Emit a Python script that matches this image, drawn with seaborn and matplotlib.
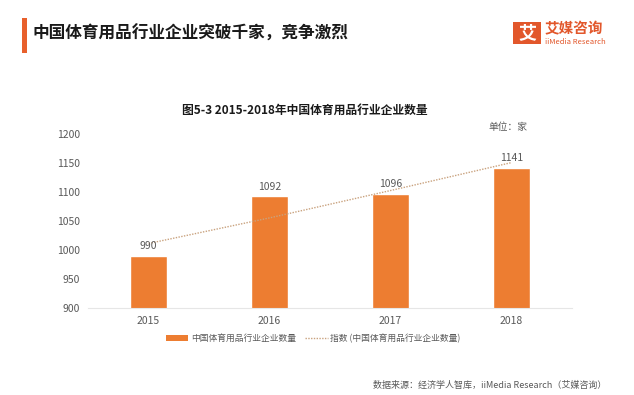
import numpy as np
import pandas as pd
import matplotlib
matplotlib.use("Agg")
import matplotlib.pyplot as plt
import seaborn as sns
from matplotlib.patches import Patch, Rectangle
from matplotlib.lines import Line2D

years = ["2015", "2016", "2017", "2018"]
counts = [990, 1092, 1096, 1141]
# exponential trendline
trend = [1011, 1055, 1102, 1150]
y_ticks = [900, 950, 1000, 1050, 1100, 1150, 1200]

BAR = "#ED7D31"
ACCENT = "#E8602C"
GREY = "#595959"

sns.set_theme(style="white")
plt.rcParams['font.family'] = ['Noto Sans CJK SC', 'DejaVu Sans']

df = pd.DataFrame({"year": years, "count": counts})

fig = plt.figure(figsize=(6.34, 3.95), dpi=100)
ax = fig.add_axes([0.139, 0.220, 0.763, 0.442])

sns.barplot(data=df, x="year", y="count", color=BAR, saturation=1, width=0.31, ax=ax)
x = np.arange(len(years))
ax.plot(x, trend, linestyle=(0, (1, 1)), color="#C9A27E", linewidth=1.0)

for xi, v in zip(x, counts):
    ax.text(xi, v + 8, str(v), ha="center", va="bottom", fontsize=7.5, color=GREY)

ax.set_ylim(900, 1200)
ax.set_yticks(y_ticks)
ax.set_xlim(-0.5, 3.5)
ax.set_xlabel("")
ax.set_ylabel("")
ax.tick_params(axis="both", length=0, labelsize=7.5, colors=GREY, pad=6)
for s in ["top", "right", "left"]:
    ax.spines[s].set_visible(False)
ax.spines["bottom"].set_color("#E6E6E6")
ax.spines["bottom"].set_linewidth(0.8)

handles = [
    Patch(facecolor=BAR, edgecolor="none", label="中国体育用品行业企业数量"),
    Line2D([0], [0], linestyle=(0, (1, 1)), color="#C9A27E", linewidth=1.0,
           label="指数 (中国体育用品行业企业数量)"),
]
ax.legend(handles=handles, loc="center", bbox_to_anchor=(0.465, -0.172), ncol=2,
          frameon=False, fontsize=6.3, labelcolor=GREY, handlelength=2.6,
          handleheight=0.7, columnspacing=1.0, handletextpad=0.3)

# header
fig.patches.append(Rectangle((22 / 634, 1 - 53 / 395), 5 / 634, 35 / 395,
                             transform=fig.transFigure, facecolor=ACCENT, edgecolor="none"))
fig.text(32 / 634, 1 - 34 / 395, "中国体育用品行业企业突破千家，竞争激烈",
         fontsize=12, fontweight="bold", color="#1a1a1a", va="center", ha="left")

# logo
fig.patches.append(Rectangle((513 / 634, 1 - 44 / 395), 28 / 634, 22 / 395,
                             transform=fig.transFigure, facecolor="#E2572B", edgecolor="none"))
fig.text(527 / 634, 1 - 33 / 395, "艾", fontsize=13, fontweight="bold", color="white",
         ha="center", va="center")
fig.text(545 / 634, 1 - 28 / 395, "艾媒咨询", fontsize=10.5, fontweight="bold",
         color="#E2572B", ha="left", va="center")
fig.text(545 / 634, 1 - 42 / 395, "iiMedia Research", fontsize=5.5,
         color="#E2572B", ha="left", va="center")

# chart title and unit
fig.text(305 / 634, 1 - 110 / 395, "图5-3 2015-2018年中国体育用品行业企业数量",
         fontsize=8.5, fontweight="bold", color="#1a1a1a", ha="center", va="center")
fig.text(527 / 634, 1 - 127 / 395, "单位：家", fontsize=7, color=GREY,
         ha="right", va="center")

# source
fig.text(606 / 634, 1 - 385 / 395, "数据来源：经济学人智库，iiMedia Research（艾媒咨询）",
         fontsize=6.5, color=GREY, ha="right", va="center")

fig.savefig("out.png", dpi=100)
